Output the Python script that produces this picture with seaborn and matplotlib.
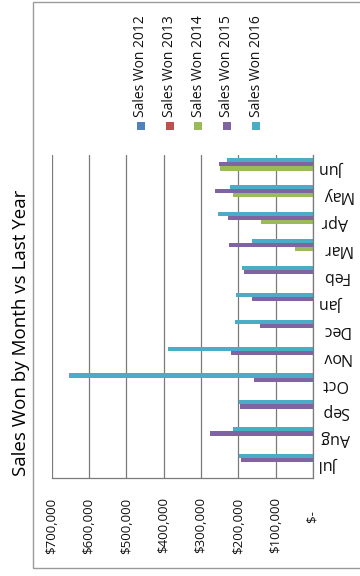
import matplotlib
matplotlib.use("Agg")
import matplotlib.pyplot as plt
from matplotlib.patches import Rectangle
import seaborn as sns
import pandas as pd
import numpy as np

months = ["Jul", "Aug", "Sep", "Oct", "Nov", "Dec", "Jan", "Feb", "Mar", "Apr", "May", "Jun"]
years = ["Sales Won 2012", "Sales Won 2013", "Sales Won 2014", "Sales Won 2015", "Sales Won 2016"]
sales_2012 = [0, 0, 0, 0, 0, 0, 0, 0, 0, 0, 0, 0]
sales_2013 = [0, 0, 0, 0, 0, 0, 0, 0, 0, 0, 0, 0]
sales_2014 = [0, 0, 0, 0, 0, 0, 0, 0, 48000, 140000, 213000, 249000]
sales_2015 = [193000, 275000, 196000, 159000, 219000, 141000, 164000, 185000, 224000, 227000, 263000, 251000]
sales_2016 = [197000, 215000, 197000, 654000, 389000, 208000, 206000, 191000, 164000, 254000, 222000, 231000]
colors = ["#4F81BD", "#C0504D", "#9BBB59", "#8064A2", "#4BACC6"]
value_ticks = [0, 100000, 200000, 300000, 400000, 500000, 600000, 700000]
value_labels = ["$-    ", "$100,000", "$200,000", "$300,000", "$400,000",
                "$500,000", "$600,000", "$700,000"]

rows = []
for name, vals in zip(years, [sales_2012, sales_2013, sales_2014, sales_2015, sales_2016]):
    for m, v in zip(months, vals):
        rows.append({"month": m, "year": name, "sales": v})
df = pd.DataFrame(rows)

sns.set_theme(style="white")
plt.rcParams["font.family"] = ["Open Sans", "DejaVu Sans"]

W, H = 360, 576
fig = plt.figure(figsize=(W / 100, H / 100), dpi=100)
ax = fig.add_axes([51.5 / W, 1 - 478 / H, (313 - 51.5) / W, (478 - 155) / H])

sns.barplot(data=df, y="month", x="sales", hue="year", order=months, hue_order=years,
            orient="h", palette=colors, width=0.77, saturation=1, linewidth=0,
            legend=False, errorbar=None, ax=ax)

ax.set_ylim(-0.5, 11.5)
ax.set_xlim(700000, 0)
ax.set_xticks(value_ticks)
ax.set_xticklabels(value_labels, rotation=90, fontsize=9.5, color="#111111")
ax.tick_params(axis="x", length=0, pad=14)
ax.yaxis.tick_right()
ax.set_yticks(range(len(months)))
ax.set_yticklabels(months, rotation=180, fontsize=11.5, color="#111111", va="center")
ax.tick_params(axis="y", length=0, pad=6)
ax.set_xlabel("")
ax.set_ylabel("")
ax.xaxis.grid(True, color="#7a7a7a", linewidth=0.9)
ax.set_axisbelow(True)
for side in ["top", "left"]:
    ax.spines[side].set_visible(False)
for side in ["right", "bottom"]:
    ax.spines[side].set_color("#7a7a7a")
    ax.spines[side].set_linewidth(0.9)

# title, rotated with the chart
fig.text(21 / W, 1 - 333 / H, "Sales Won by Month vs Last Year", rotation=90,
         ha="center", va="center", fontsize=13.5, color="#000000")

# legend, drawn by hand because its entries are rotated
leg_x = [141, 169.5, 198, 227, 256]
for x, name, c in zip(leg_x, years, colors):
    fig.patches.append(Rectangle(((x - 4) / W, 1 - 130 / H), 8 / W, 8 / H,
                                 transform=fig.transFigure, facecolor=c, edgecolor="none"))
    fig.text(x / W, 1 - 117 / H, name, rotation=90, ha="center", va="bottom",
             fontsize=10, color="#111111")

# outer chart border
fig.patches.append(Rectangle((33 / W, 1 - 568 / H), 1, 566 / H, transform=fig.transFigure,
                             facecolor="none", edgecolor="#9a9a9a", linewidth=1.0))

fig.savefig("out.png", dpi=100)
